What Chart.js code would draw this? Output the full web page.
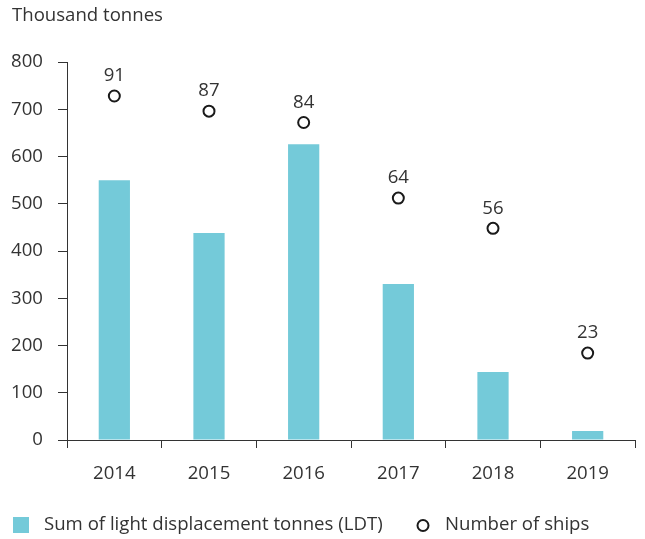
<!DOCTYPE html>
<html><head><meta charset="utf-8">
<script src="https://cdn.jsdelivr.net/npm/chart.js@4/dist/chart.umd.min.js"></script>
<style>html,body{margin:0;padding:0;background:#fff}#wrap{width:645px;height:539px;position:relative}</style>
</head><body><div id="wrap"><canvas id="c" width="645" height="539"></canvas></div>
<script>
const categories = ['2014','2015','2016','2017','2018','2019'];
const ldtValues = [550, 438, 626, 330, 144, 19];
const shipCounts = [91, 87, 84, 64, 56, 23];
const yTicks = [0,100,200,300,400,500,600,700,800];
const yTitle = 'Thousand tonnes';
const seriesNames = ['Sum of light displacement tonnes (LDT)', 'Number of ships'];

const FONT = "'Open Sans', sans-serif";
const FS = 18.6;
const TXT = '#333333';
const BAR = '#74CAD9';

const overlay = {
  id: 'overlay',
  afterDatasetsDraw(chart) {
    const ctx = chart.ctx;
    ctx.save();
    const meta = chart.getDatasetMeta(1);
    ctx.font = FS + 'px ' + FONT;
    ctx.fillStyle = TXT;
    ctx.textAlign = 'center';
    ctx.textBaseline = 'middle';
    meta.data.forEach((pt, i) => {
      ctx.fillText(String(shipCounts[i]), pt.x, pt.y - 20);
    });
    ctx.textAlign = 'left';
    ctx.fillText(yTitle, 12, 16);
    ctx.fillStyle = BAR;
    ctx.fillRect(13, 517, 16, 16);
    ctx.fillStyle = TXT;
    ctx.fillText(seriesNames[0], 44, 525);
    ctx.beginPath();
    ctx.arc(423, 525.5, 5.5, 0, Math.PI*2);
    ctx.lineWidth = 2;
    ctx.strokeStyle = '#1a1a1a';
    ctx.stroke();
    ctx.fillText(seriesNames[1], 445, 525);
    ctx.restore();
  }
};

new Chart(document.getElementById('c'), {
  data: {
    labels: categories,
    datasets: [
      { type: 'bar', label: seriesNames[0], data: ldtValues, backgroundColor: BAR, borderWidth: 0,
        barPercentage: 0.33, categoryPercentage: 1, yAxisID: 'y', order: 2 },
      { type: 'line', label: seriesNames[1], data: shipCounts, showLine: false, yAxisID: 'y2',
        pointStyle: 'circle', pointRadius: 5.5, pointBorderWidth: 2, pointBackgroundColor: '#fff',
        pointBorderColor: '#1a1a1a', order: 1 }
    ]
  },
  options: {
    responsive: false, animation: false,
    layout: { padding: { left: 0, right: 10, top: 62, bottom: 0 } },
    plugins: { legend: { display: false }, tooltip: { enabled: false } },
    scales: {
      x: {
        offset: true,
        grid: { offset: true, drawOnChartArea: false, drawTicks: true, tickLength: 8, color: TXT, lineWidth: 1 },
        border: { display: true, color: TXT, width: 1 },
        ticks: { color: TXT, font: { family: FONT, size: FS }, padding: 15, maxRotation: 0 },
        afterFit(s) { s.height = 99; }
      },
      y: {
        min: 0, max: 800,
        afterBuildTicks(s) { s.ticks = yTicks.map(v => ({ value: v })); },
        grid: { drawOnChartArea: false, drawTicks: true, tickLength: 9, color: TXT, lineWidth: 1 },
        border: { display: true, color: TXT, width: 1 },
        ticks: { color: TXT, font: { family: FONT, size: FS }, padding: 15 },
        afterFit(s) { s.width = 67; }
      },
      y2: { display: false, min: 0, max: 100 }
    }
  },
  plugins: [overlay]
});
</script></body></html>
